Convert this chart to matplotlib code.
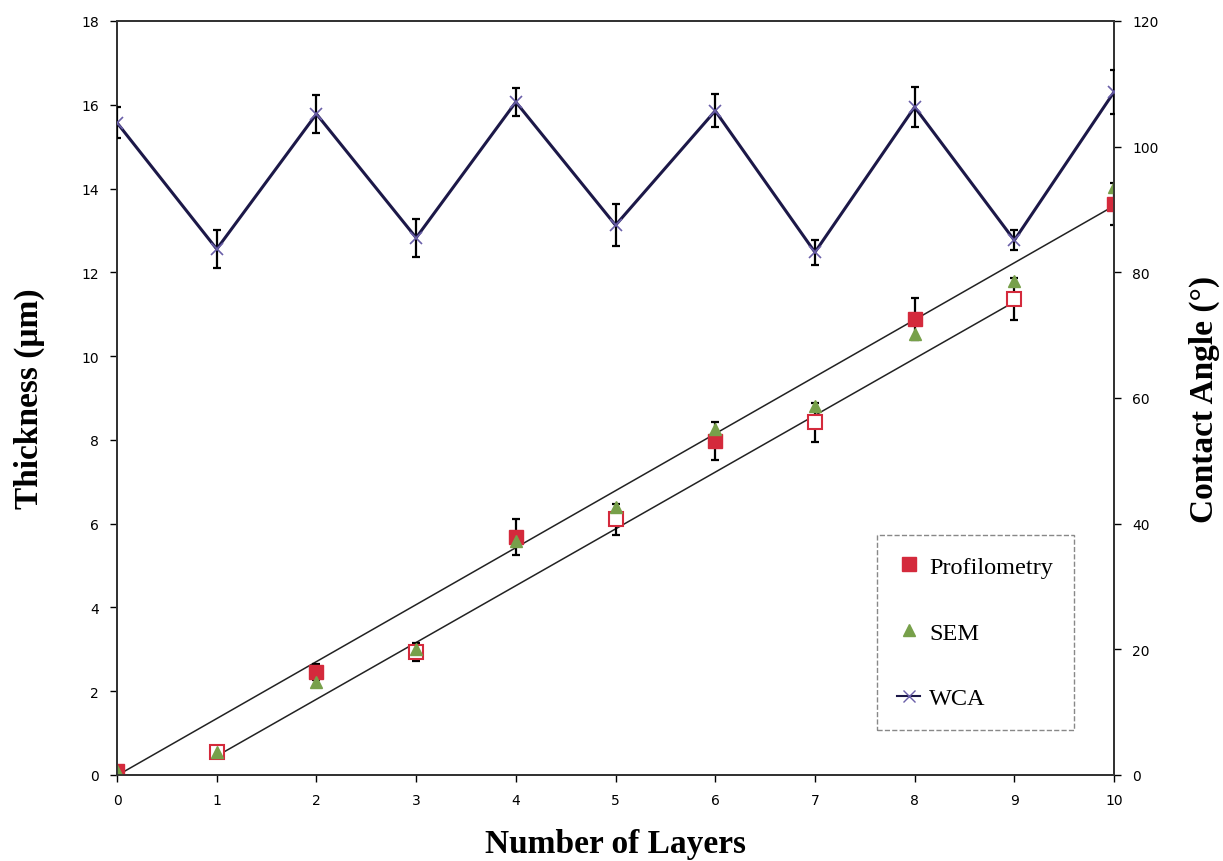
import numpy as np
import matplotlib
matplotlib.use("Agg")
from matplotlib import pyplot as plt
from matplotlib.lines import Line2D

# data
layers = [0, 1, 2, 3, 4, 5, 6, 7, 8, 9, 10]
profilometry = [0.10, 0.55, 2.46, 2.93, 5.68, 6.11, 7.97, 8.42, 10.88, 11.36, 13.63]
profilometry_err = [0.0, 0.1, 0.2, 0.22, 0.42, 0.37, 0.46, 0.46, 0.5, 0.5, 0.5]
sem = [0.10, 0.55, 2.22, 3.00, 5.58, 6.40, 8.26, 8.81, 10.52, 11.79, 14.03]
wca = [103.8, 83.7, 105.2, 85.5, 107.1, 87.5, 105.7, 83.2, 106.3, 85.1, 108.7]
wca_err = [2.5, 3.0, 3.0, 3.0, 2.3, 3.3, 2.6, 2.0, 3.2, 1.6, 3.5]

RED = "#d42a3c"
GREEN = "#77a04a"
NAVY = "#1c1848"
XCOL = "#6a5fa8"

x = np.array(layers)
prof = np.array(profilometry)
perr = np.array(profilometry_err)
even = x % 2 == 0
odd = ~even

fig = plt.figure(figsize=(12.23, 8.62), dpi=100)
ax = fig.add_axes([0.0957, 0.0998, 0.8152, 0.8747])
ax2 = ax.twinx()

# linear fits for even / odd layers
for mask in (even, odd):
    k, b = np.polyfit(x[mask], prof[mask], 1)
    xs = np.array([x[mask][0], x[mask][-1]])
    ax.plot(xs, k * xs + b, color="#222222", lw=1.1, zorder=2)

ax.errorbar(x, prof, yerr=perr, fmt="none", ecolor="black", elinewidth=1.6,
            capsize=3, capthick=1.6, zorder=3)
ax.plot(x[even], prof[even], "s", ms=10, color=RED, mec=RED, zorder=4)
ax.plot(x[odd], prof[odd], "s", ms=10, mfc="white", mec=RED, mew=1.5, zorder=4)
ax.plot(x, sem, "^", ms=8, color=GREEN, zorder=5)

ax2.errorbar(x, wca, yerr=wca_err, fmt="none", ecolor="black", elinewidth=1.6,
             capsize=3, capthick=1.6, zorder=3)
ax2.plot(x, wca, "-", color=NAVY, lw=2.2, zorder=4)
ax2.plot(x, wca, "x", color=XCOL, ms=9, mew=1.2, zorder=5)

ax.set_xlim(0, 10)
ax.set_ylim(0, 18)
ax2.set_ylim(0, 120)
ax.set_xticks(range(0, 11))
ax.set_yticks(range(0, 19, 2))
ax2.set_yticks(range(0, 121, 20))
for a in (ax, ax2):
    a.tick_params(direction="out", length=5, width=1, labelsize=10, pad=8)
    for s in a.spines.values():
        s.set_color("#333333")
        s.set_linewidth(1.3)

serif = ["Liberation Serif", "DejaVu Serif"]
ax.set_xlabel("Number of Layers", fontsize=24, fontweight="bold", family=serif, labelpad=15)
ax.set_ylabel("Thickness (\u03bcm)", fontsize=24, fontweight="bold", family=serif, labelpad=26)
ax2.set_ylabel("Contact Angle (\u00b0)", fontsize=24, fontweight="bold", family=serif, labelpad=22)

handles = [
    Line2D([], [], ls="none", marker="s", ms=10, color=RED),
    Line2D([], [], ls="none", marker="^", ms=8, color=GREEN),
    Line2D([], [], color=NAVY, lw=1.5, marker="x", mec=XCOL, ms=8),
]
leg = ax2.legend(handles, ["Profilometry", "SEM", "WCA"], loc="upper left",
                 bbox_to_anchor=(0.762, 0.318), borderaxespad=0,
                 prop={"family": serif, "size": 17.5}, labelspacing=1.8,
                 handlelength=0.95, handletextpad=0.35, borderpad=0.85,
                 fancybox=False, framealpha=1)
leg.get_frame().set_linestyle("--")
leg.get_frame().set_edgecolor("#888888")
leg.get_frame().set_linewidth(1.0)

fig.savefig("out.png", dpi=100)
